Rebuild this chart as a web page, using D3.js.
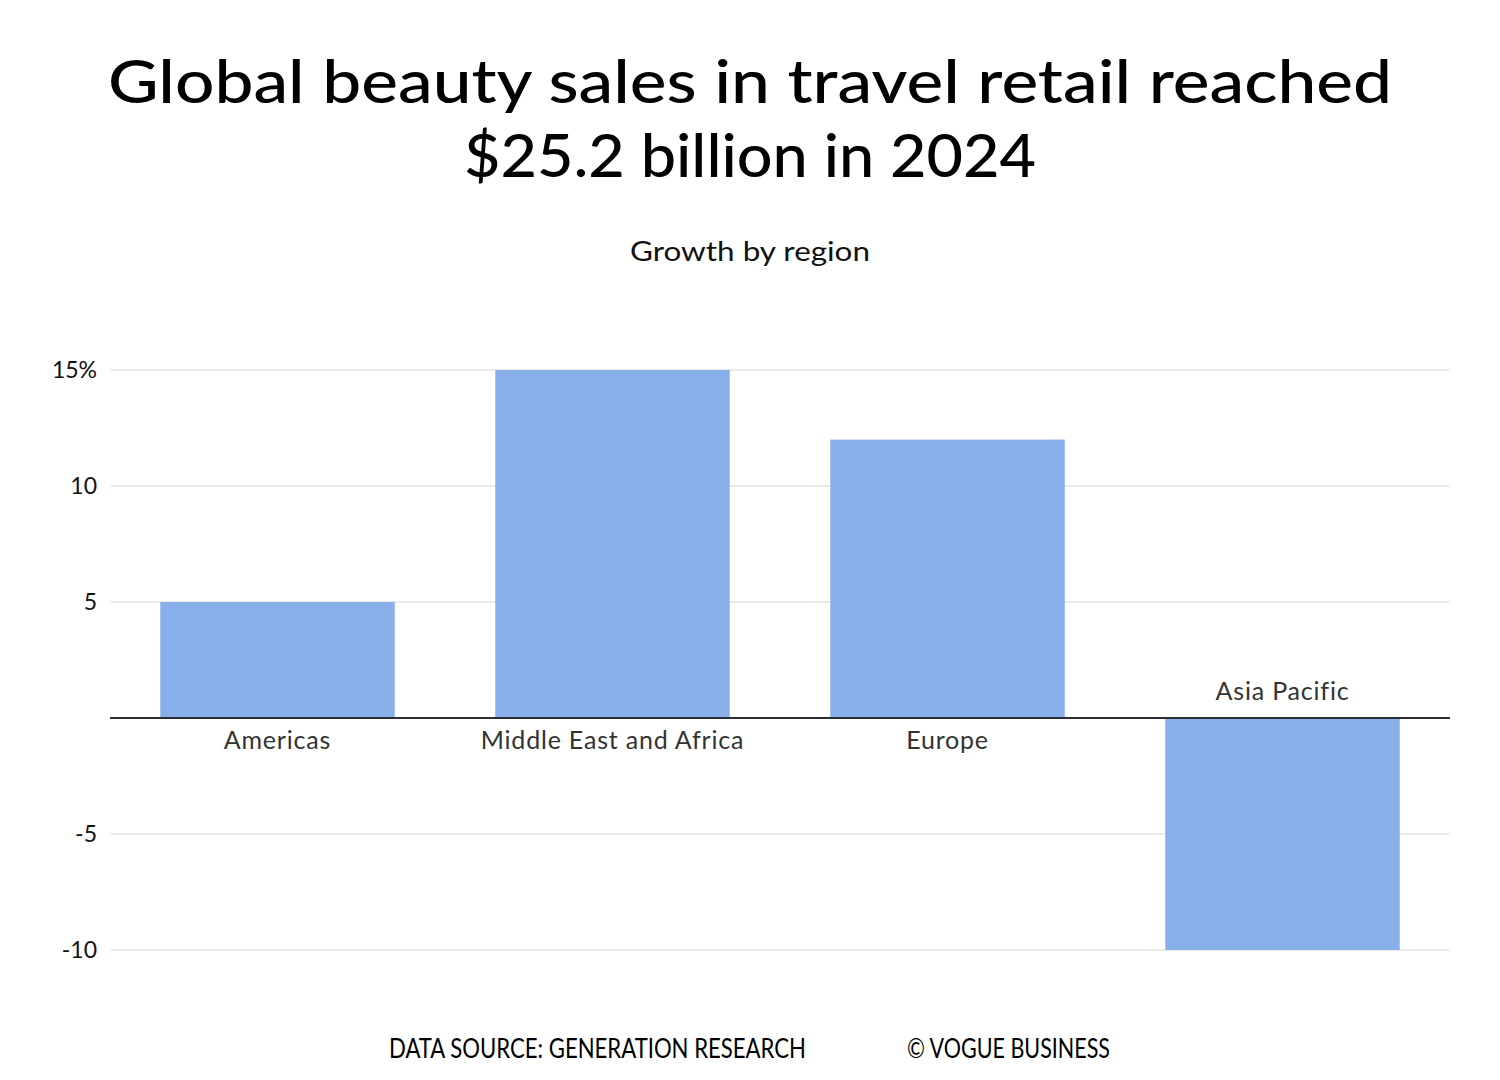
<!DOCTYPE html>
<html>
<head>
<meta charset="utf-8">
<script src="https://cdn.jsdelivr.net/npm/d3@7"></script>
<style>
  html, body { margin: 0; padding: 0; background: #fff; }
  svg { display: block; font-family: "Lato", "Noto Sans", sans-serif; }
</style>
</head>
<body>
<svg id="chart" width="1500" height="1080"></svg>
<script>
const titleLines = ["Global beauty sales in travel retail reached", "$25.2 billion in 2024"];
const subtitle = "Growth by region";
const categories = ["Americas", "Middle East and Africa", "Europe", "Asia Pacific"];
const growth = [5, 15, 12, -10];
const yTicks = [-10, -5, 5, 10, 15];
const yTickLabels = ["-10", "-5", "5", "10", "15%"];
const sourceText = "DATA SOURCE: GENERATION RESEARCH";
const creditText = "© VOGUE BUSINESS";

(function () {
const svg = d3.select("#chart");
const W = 1500;
const mLeft = 110, mRight = 1450, mTop = 370, mBottom = 950;

const x = d3.scaleBand().domain(categories).range([mLeft, mRight]).paddingInner(0.3).paddingOuter(0.15);
const y = d3.scaleLinear().domain([-10, 15]).range([mBottom, mTop]);

function fitWidth(sel, target) {
  const w = sel.node().getComputedTextLength();
  const fs = parseFloat(sel.attr("font-size"));
  sel.attr("font-size", fs * target / w);
}

// Title
const t1 = svg.append("text").attr("x", W/2).attr("y", 103).attr("text-anchor", "middle")
  .attr("font-size", 60).attr("fill", "#000").attr("font-weight", 500)
  .attr("textLength", 1284).attr("lengthAdjust", "spacingAndGlyphs").text(titleLines[0]);
const t2 = svg.append("text").attr("x", W/2).attr("y", 177).attr("text-anchor", "middle")
  .attr("font-size", 60).attr("fill", "#000").attr("font-weight", 500)
  .attr("textLength", 572).attr("lengthAdjust", "spacingAndGlyphs").text(titleLines[1]);

const st = svg.append("text").attr("x", W/2).attr("y", 261).attr("text-anchor", "middle")
  .attr("font-size", 27).attr("fill", "#111")
  .attr("textLength", 240).attr("lengthAdjust", "spacingAndGlyphs").text(subtitle);

// Gridlines
svg.append("g").selectAll("line").data(yTicks).join("line")
  .attr("x1", mLeft).attr("x2", mRight)
  .attr("y1", d => y(d)).attr("y2", d => y(d))
  .attr("stroke", "#e4e4e4").attr("stroke-width", 1.5);

// Y labels
svg.append("g").selectAll("text").data(yTicks).join("text")
  .attr("x", 97).attr("y", d => y(d)).attr("dy", "0.35em")
  .attr("text-anchor", "end").attr("font-size", 23).attr("fill", "#111")
  .text((d, i) => yTickLabels[i]);

// Bars
svg.append("g").selectAll("rect").data(categories).join("rect")
  .attr("x", d => x(d))
  .attr("width", x.bandwidth())
  .attr("y", (d, i) => y(Math.max(0, growth[i])))
  .attr("height", (d, i) => Math.abs(y(growth[i]) - y(0)))
  .attr("fill", "#89afea");

// Zero line
svg.append("line").attr("x1", mLeft).attr("x2", mRight)
  .attr("y1", y(0)).attr("y2", y(0)).attr("stroke", "#2b2e33").attr("stroke-width", 2);

// Category labels
svg.append("g").selectAll("text").data(categories).join("text")
  .attr("x", d => x(d) + x.bandwidth()/2)
  .attr("y", (d, i) => growth[i] >= 0 ? y(0) + 31 : y(0) - 18)
  .attr("text-anchor", "middle").attr("font-size", 25).attr("letter-spacing", 0.8).attr("fill", "#333")
  .text(d => d);

// Footer
svg.append("text").attr("x", 389).attr("y", 1058).attr("font-size", 26)
  .attr("fill", "#000").attr("textLength", 417).attr("lengthAdjust", "spacingAndGlyphs").text(sourceText);
svg.append("text").attr("x", 907).attr("y", 1058).attr("font-size", 26)
  .attr("fill", "#000").attr("textLength", 203).attr("lengthAdjust", "spacingAndGlyphs").text(creditText);
})();
</script>
</body>
</html>
